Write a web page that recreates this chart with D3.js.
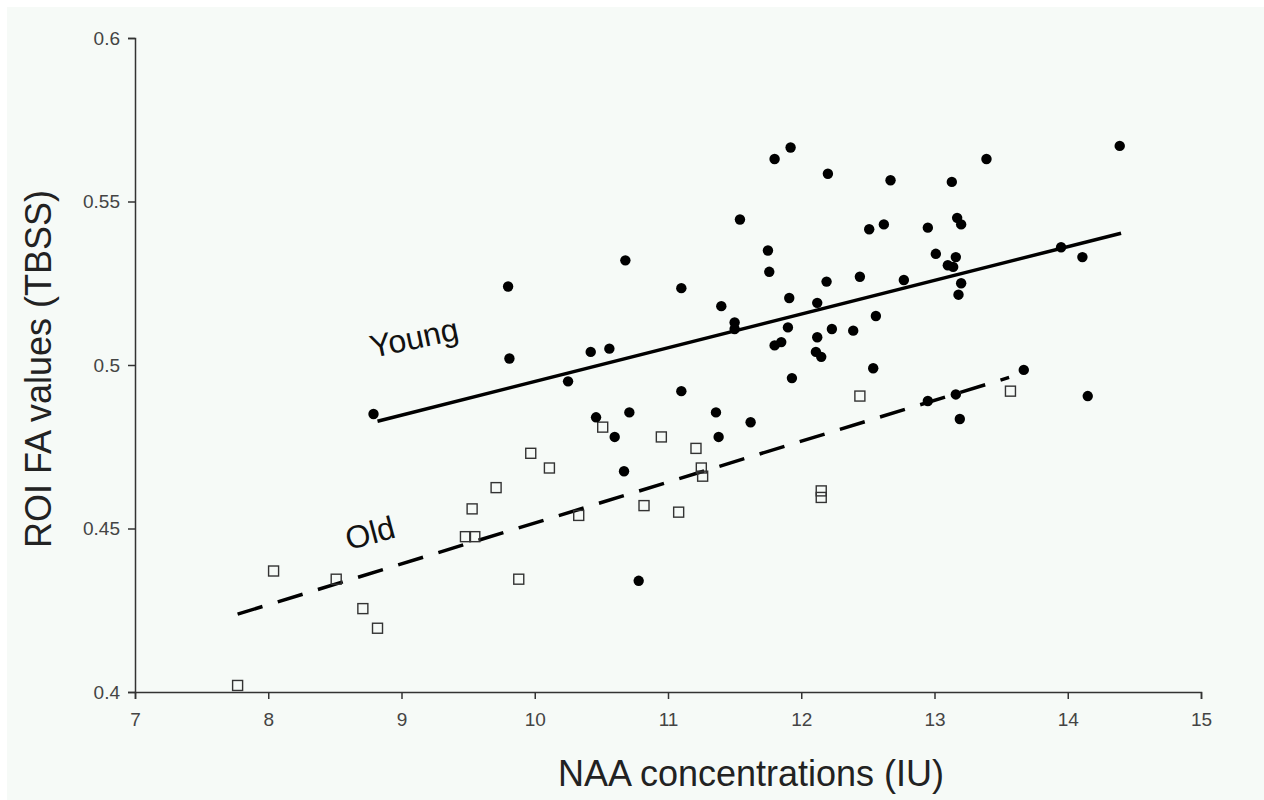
<!DOCTYPE html>
<html>
<head>
<meta charset="utf-8">
<script src="https://cdn.jsdelivr.net/npm/d3@7"></script>
<style>
  body { margin: 0; background: #ffffff; }
  text { font-family: "Liberation Sans", Arial, sans-serif; }
</style>
</head>
<body>
<div id="viz-container"></div>
<script>
// young group (filled dots)
let youngX = [8.79, 9.80, 9.81, 10.25, 10.42, 10.56, 10.68, 11.10, 11.40, 11.50, 11.50, 10.46, 10.71, 10.60, 11.10, 11.36,
  11.38, 10.67, 10.78, 11.92, 11.80, 12.20, 12.67, 13.13, 13.39, 11.54, 12.51, 12.62, 12.95, 13.17, 13.20, 11.75,
  11.76, 13.01, 13.16, 13.10, 13.14, 12.19, 12.44, 12.77, 13.20, 13.18, 11.91, 12.12, 11.90, 12.56, 12.23, 12.39,
  11.80, 11.85, 12.12, 12.11, 12.15, 12.54, 11.93, 14.39, 13.95, 14.11, 13.67, 14.15, 12.95, 13.16, 13.19, 11.62];
let youngY = [0.485, 0.524, 0.502, 0.495, 0.504, 0.505, 0.532, 0.5235, 0.518, 0.513, 0.511, 0.484, 0.4855, 0.478, 0.492, 0.4855,
  0.478, 0.4675, 0.434, 0.5665, 0.563, 0.5585, 0.5565, 0.556, 0.563, 0.5445, 0.5415, 0.543, 0.542, 0.545, 0.543, 0.535,
  0.5285, 0.534, 0.533, 0.5305, 0.530, 0.5255, 0.527, 0.526, 0.525, 0.5215, 0.5205, 0.519, 0.5115, 0.515, 0.511, 0.5105,
  0.506, 0.507, 0.5085, 0.504, 0.5025, 0.499, 0.496, 0.567, 0.536, 0.533, 0.4985, 0.4905, 0.489, 0.491, 0.4835, 0.4825];

// old group (open squares)
let oldX = [7.77, 8.04, 8.51, 8.71, 8.82, 9.48, 9.55, 9.53, 9.71, 9.88, 9.97, 10.11, 10.51, 10.95, 11.21, 11.25,
  11.26, 10.33, 10.82, 11.08, 12.44, 12.15, 12.15, 13.57];
let oldY = [0.402, 0.437, 0.4345, 0.4255, 0.4195, 0.4475, 0.4475, 0.456, 0.4625, 0.4345, 0.473, 0.4685, 0.481, 0.478, 0.4745, 0.4685,
  0.466, 0.454, 0.457, 0.455, 0.4905, 0.4615, 0.4595, 0.492];

// fitted lines, endpoints
let youngFitX = [8.82, 14.40];
let youngFitY = [0.4828, 0.5403];
let oldFitX = [7.77, 13.56];
let oldFitY = [0.4238, 0.4962];

let xTicks = [7, 8, 9, 10, 11, 12, 13, 14, 15];
let yTicks = [0.4, 0.45, 0.5, 0.55, 0.6];

let labelNames = ['Young', 'Old'];
let labelX = [9.094, 8.764];
let labelY = [0.5083, 0.4486];
let labelAngle = [-12, -15];

let viz = d3.select('#viz-container')
  .append('svg')
    .attr('id', 'viz')
    .attr('width', 1264)
    .attr('height', 800)
;

viz.append('rect')
  .attr('x', 7).attr('y', 7)
  .attr('width', 1257).attr('height', 793)
  .attr('fill', '#f6faf7');

let x = d3.scaleLinear().domain([7, 15]).range([135, 1201]);
let y = d3.scaleLinear().domain([0.4, 0.6]).range([692, 38]);

// axes
let xAxis = viz.append('g')
  .attr('transform', 'translate(0,692)')
  .call(d3.axisBottom(x).tickValues(xTicks).tickSize(7).tickPadding(14).tickFormat(d3.format('d')));
let yAxis = viz.append('g')
  .attr('transform', 'translate(135,0)')
  .call(d3.axisLeft(y).tickValues(yTicks).tickSize(7).tickPadding(8).tickFormat(d => String(d)));

[xAxis, yAxis].forEach(ax => {
  ax.selectAll('path, line').attr('stroke', '#333').attr('stroke-width', 1.5);
  ax.selectAll('text').attr('fill', '#444').style('font-size', '19px');
});

// fit lines
let line = d3.line().x(d => x(d[0])).y(d => y(d[1]));
viz.append('path')
  .datum(d3.zip(youngFitX, youngFitY))
  .attr('d', line)
  .attr('fill', 'none')
  .attr('stroke', 'black')
  .attr('stroke-width', 3.5);
viz.append('path')
  .datum(d3.zip(oldFitX, oldFitY))
  .attr('d', line)
  .attr('fill', 'none')
  .attr('stroke', 'black')
  .attr('stroke-width', 3.5)
  .attr('stroke-dasharray', '26,16');

// points
viz.selectAll('rect.old').data(d3.zip(oldX, oldY)).enter()
  .append('rect')
    .attr('class', 'old')
    .attr('x', d => x(d[0]) - 5)
    .attr('y', d => y(d[1]) - 5)
    .attr('width', 10)
    .attr('height', 10)
    .attr('fill', 'none')
    .attr('stroke', '#333')
    .attr('stroke-width', 1.4);

viz.selectAll('circle.young').data(d3.zip(youngX, youngY)).enter()
  .append('circle')
    .attr('class', 'young')
    .attr('cx', d => x(d[0]))
    .attr('cy', d => y(d[1]))
    .attr('r', 5.2)
    .attr('fill', 'black');

// group labels
viz.selectAll('text.grp').data(labelNames).enter()
  .append('text')
    .attr('class', 'grp')
    .attr('transform', (d, i) => 'translate(' + x(labelX[i]) + ',' + y(labelY[i]) + ') rotate(' + labelAngle[i] + ')')
    .attr('text-anchor', 'middle')
    .attr('dominant-baseline', 'central')
    .style('font-size', '32px')
    .attr('fill', '#111')
    .text(d => d);

// axis titles
viz.append('text')
  .attr('x', 751).attr('y', 786)
  .attr('text-anchor', 'middle')
  .style('font-size', '36px')
  .attr('fill', '#222')
  .text('NAA concentrations (IU)');
viz.append('text')
  .attr('transform', 'translate(51,369) rotate(-90)')
  .attr('text-anchor', 'middle')
  .style('font-size', '36px')
  .attr('fill', '#222')
  .text('ROI FA values (TBSS)');
</script>
</body>
</html>
